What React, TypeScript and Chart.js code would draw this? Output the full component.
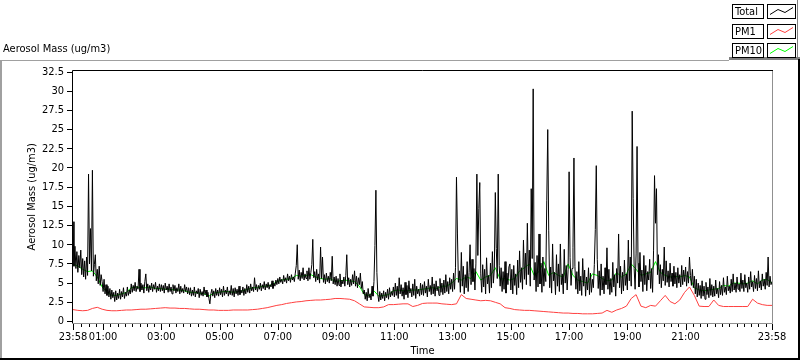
import React, { useEffect, useRef } from "react";
import { Chart, registerables } from "chart.js";

Chart.register(...registerables);

const FONT = "'DejaVu Sans Condensed', 'Liberation Sans', sans-serif";

const chartTitle = "Aerosol Mass (ug/m3)";
const yAxisTitle = "Aerosol Mass (ug/m3)";
const xAxisTitle = "Time";
const seriesNames = ["Total", "PM1", "PM10"];
const seriesColors = ["#000000", "#ff4040", "#00ff00"];

const edgeLabel = "23:58";
const hourLabels = ["01:00", "03:00", "05:00", "07:00", "09:00", "11:00", "13:00", "15:00", "17:00", "19:00", "21:00"];
const spanMinutes = 1440;
const yMin = 0;
const yMax = 32.5;
const yStep = 2.5;

// Total: one value every 2 minutes from 23:58 (30 values per hour row)
const totalStep = 2;
const totalValues = [
  13.0, 7.2, 9.8, 6.9, 9.1, 6.4, 8.6, 7.0, 9.3, 6.1, 8.2, 5.8, 7.9, 5.5, 8.4, 6.0, 19.2, 7.5, 12.1, 6.6, 19.7, 5.9, 7.4, 8.7, 5.3, 6.8, 4.9, 7.2, 4.7, 6.1,
  5.2, 3.9, 5.5, 3.6, 4.8, 3.4, 4.6, 3.2, 4.3, 2.9, 4.1, 3.1, 3.8, 2.6, 4.0, 2.8, 3.7, 3.0, 4.2, 2.9, 3.9, 3.2, 4.4, 3.0, 3.8, 3.3, 4.5, 3.4, 4.1, 3.6,
  4.9, 3.8, 4.7, 4.0, 5.1, 3.9, 4.6, 4.2, 6.8, 3.9, 5.0, 4.1, 4.8, 3.7, 5.2, 6.2, 4.0, 4.9, 3.8, 4.7, 4.1, 5.0, 3.9, 4.8, 4.2, 5.1, 3.8, 4.6, 4.0, 4.9,
  3.9, 4.8, 4.0, 4.7, 3.7, 5.0, 4.1, 4.6, 3.8, 4.9, 3.9, 4.5, 3.6, 4.8, 4.0, 4.7, 3.7, 4.4, 3.9, 4.9, 3.6, 4.6, 3.8, 4.3, 3.7, 4.8, 3.9, 4.5, 3.6, 4.4,
  3.5, 4.4, 3.3, 4.1, 3.4, 4.5, 3.2, 4.0, 3.6, 4.3, 3.1, 4.2, 3.4, 3.9, 3.3, 4.5, 3.5, 4.1, 3.2, 3.8, 3.0, 2.3, 3.6, 4.2, 3.3, 4.0, 3.1, 4.3, 3.4, 4.1,
  3.3, 4.4, 3.5, 4.2, 3.2, 4.6, 3.4, 4.1, 3.6, 4.5, 3.3, 4.0, 3.5, 4.7, 3.4, 4.3, 3.2, 4.4, 3.6, 4.2, 3.4, 4.6, 3.5, 4.1, 3.7, 4.5, 3.4, 4.3, 3.6, 4.8,
  3.8, 4.6, 3.7, 4.9, 4.0, 4.5, 3.9, 5.7, 4.1, 4.8, 3.9, 4.7, 4.2, 5.0, 4.0, 4.8, 4.3, 5.2, 4.1, 4.9, 4.4, 5.1, 4.2, 4.8, 4.5, 5.3, 4.3, 5.0, 4.6, 5.4,
  4.8, 5.6, 4.9, 5.8, 5.1, 5.5, 4.9, 6.0, 5.2, 5.7, 5.0, 6.2, 5.3, 5.9, 5.1, 6.1, 5.4, 5.8, 5.2, 6.3, 7.3, 10.0, 5.5, 6.7, 5.3, 6.4, 5.6, 7.0, 5.4, 6.2,
  5.6, 6.6, 5.3, 7.0, 5.5, 6.4, 7.4, 10.7, 5.7, 6.5, 5.2, 6.8, 5.4, 6.2, 5.0, 9.7, 5.6, 8.4, 5.1, 6.1, 4.9, 6.3, 5.2, 5.9, 5.0, 6.4, 5.3, 8.5, 4.9, 5.8,
  4.8, 5.9, 4.6, 5.6, 4.7, 6.2, 4.5, 5.4, 4.9, 5.8, 4.6, 6.0, 8.7, 4.8, 5.7, 4.5, 5.5, 4.7, 6.1, 4.9, 6.6, 4.6, 5.9, 4.4, 5.7, 4.8, 6.3, 4.3, 5.2, 3.6,
  4.1, 2.9, 3.8, 2.7, 4.3, 3.1, 3.6, 2.8, 4.6, 3.3, 5.2, 9.9, 17.1, 6.4, 3.5, 2.6, 3.9, 2.8, 3.7, 3.0, 4.0, 2.7, 3.8, 3.1, 4.2, 2.9, 4.4, 3.2, 3.9, 3.4,
  4.5, 3.2, 5.0, 3.4, 4.6, 3.0, 5.7, 3.6, 4.8, 3.3, 4.4, 2.9, 5.1, 3.5, 4.7, 3.1, 5.3, 3.7, 4.3, 3.2, 4.9, 3.4, 5.5, 3.0, 4.6, 3.6, 4.2, 3.3, 5.0, 3.5,
  4.8, 3.4, 5.2, 3.7, 4.6, 3.2, 5.5, 3.9, 4.7, 3.5, 5.8, 3.6, 4.9, 3.3, 5.3, 4.0, 4.6, 3.4, 5.6, 3.8, 5.0, 3.5, 5.4, 3.7, 6.1, 3.9, 5.2, 3.6, 5.7, 4.2,
  5.5, 3.9, 6.3, 4.2, 7.0, 18.8, 11.4, 5.1, 6.6, 3.8, 9.0, 4.6, 7.2, 3.6, 6.1, 4.4, 7.8, 3.9, 6.4, 10.0, 4.8, 8.1, 5.2, 6.9, 4.1, 7.5, 19.2, 8.6, 14.7, 18.1,
  6.2, 3.8, 7.4, 4.5, 6.8, 3.6, 8.3, 4.9, 6.0, 3.7, 7.6, 4.4, 9.1, 5.0, 6.9, 16.8, 9.5, 5.6, 19.2, 7.3, 4.6, 7.0, 3.9, 6.5, 4.2, 7.8, 3.7, 6.3, 4.8, 7.1,
  7.5, 4.1, 6.8, 3.6, 7.3, 4.7, 6.2, 3.5, 8.0, 4.4, 9.2, 5.1, 7.0, 4.2, 10.6, 5.5, 8.9, 4.8, 12.8, 6.1, 9.3, 4.6, 17.3, 8.2, 30.3, 5.4, 7.7, 3.9, 8.6, 4.5,
  11.4, 4.9, 7.6, 3.8, 8.4, 4.6, 6.9, 5.2, 15.8, 25.0, 11.9, 4.4, 7.1, 3.7, 10.1, 5.3, 6.4, 3.5, 8.7, 4.6, 7.5, 3.9, 10.1, 4.8, 6.2, 3.6, 9.4, 5.0, 7.3, 4.1,
  6.8, 19.5, 8.3, 4.7, 6.9, 9.6, 21.3, 7.2, 4.2, 6.5, 3.6, 7.8, 4.0, 5.9, 3.4, 8.2, 4.6, 6.7, 3.3, 5.8, 4.1, 7.0, 3.5, 6.3, 3.8, 5.5, 4.4, 7.4, 12.0, 20.3,
  8.1, 4.3, 6.6, 3.4, 7.5, 4.1, 5.9, 3.6, 7.0, 4.8, 9.6, 4.2, 6.8, 3.5, 5.6, 3.8, 7.7, 4.5, 6.1, 3.3, 6.9, 5.0, 11.4, 4.4, 7.2, 3.6, 6.4, 4.0, 8.0, 4.7,
  6.2, 4.1, 10.6, 5.3, 8.4, 4.6, 27.4, 16.0, 6.9, 4.2, 8.8, 22.8, 7.6, 4.5, 9.0, 5.2, 6.7, 3.9, 8.6, 4.8, 7.3, 4.0, 6.5, 5.4, 8.1, 4.3, 6.9, 3.8, 9.2, 19.0,
  12.8, 17.3, 6.1, 8.7, 4.9, 7.4, 4.4, 6.8, 5.3, 9.7, 4.7, 7.9, 5.1, 6.6, 4.5, 7.6, 5.2, 6.3, 4.6, 7.2, 4.9, 6.4, 4.4, 7.0, 5.0, 6.1, 4.5, 7.3, 4.8, 6.7,
  5.2, 7.1, 4.6, 6.5, 5.0, 8.4, 6.0, 4.7, 6.8, 4.4, 5.9, 3.6, 5.5, 3.2, 5.0, 3.4, 4.7, 3.0, 5.3, 3.3, 4.6, 2.9, 5.1, 3.5, 4.5, 3.1, 5.6, 3.4, 4.8, 3.2,
  4.6, 3.3, 5.4, 3.6, 4.3, 3.1, 5.2, 3.5, 4.7, 3.4, 5.7, 3.8, 4.5, 3.5, 5.9, 4.0, 4.6, 3.7, 5.5, 3.9, 6.2, 4.1, 5.0, 3.8, 5.8, 4.2, 4.9, 3.9, 6.3, 4.3,
  5.4, 3.9, 6.1, 4.4, 5.0, 3.8, 5.8, 4.2, 6.5, 4.5, 5.2, 3.9, 6.0, 4.3, 5.6, 4.0, 6.6, 4.4, 5.3, 4.1, 6.2, 4.6, 5.5, 4.2, 6.4, 4.7, 8.4, 4.5, 5.9, 4.8,
  5.2,
];

// PM1 and PM10: one value every 10 minutes from 23:58 (6 values per hour row)
const pmStep = 10;
const pm1Values = [
  1.55, 1.45, 1.4, 1.45, 1.7, 1.85,
  1.6, 1.45, 1.4, 1.4, 1.45, 1.5,
  1.5, 1.55, 1.6, 1.6, 1.65, 1.7,
  1.75, 1.8, 1.75, 1.75, 1.7, 1.7,
  1.65, 1.6, 1.6, 1.55, 1.5, 1.5,
  1.45, 1.45, 1.45, 1.5, 1.5, 1.5,
  1.5, 1.55, 1.6, 1.7, 1.8, 1.95,
  2.1, 2.2, 2.35, 2.45, 2.55, 2.6,
  2.7, 2.75, 2.8, 2.8, 2.85, 2.9,
  3.0, 3.0, 2.95, 2.9, 2.7, 2.3,
  1.9, 1.85, 1.8, 1.8, 1.9, 2.2,
  2.2, 2.25, 2.3, 2.3, 1.95, 2.1,
  2.35, 2.4, 2.4, 2.4, 2.3, 2.25,
  2.2, 2.3, 3.5, 3.0, 2.9, 2.8,
  2.7, 2.75, 2.7, 2.5, 2.3, 1.8,
  1.7, 1.55, 1.5, 1.45, 1.45, 1.4,
  1.35, 1.3, 1.25, 1.2, 1.15, 1.1,
  1.1, 1.05, 1.05, 1.0, 1.0, 1.0,
  1.05, 1.1, 1.45, 1.2, 1.5, 1.7,
  2.0, 3.0, 3.5, 2.0, 1.8, 2.1,
  2.0, 2.7, 3.4, 2.6, 2.3, 2.8,
  3.8, 4.5, 3.4, 2.0, 1.95, 1.95,
  2.8, 2.1, 1.95, 1.95, 1.95, 1.95,
  1.95, 1.95, 2.9, 2.4, 2.2, 2.1,
  2.1,
];

const pm10Values = [
  7.5, 7.2, 6.8, 6.5, 6.6, 5.8,
  4.5, 3.8, 3.4, 3.4, 3.6, 3.8,
  4.4, 4.5, 4.4, 4.4, 4.5, 4.3,
  4.3, 4.2, 4.2, 4.1, 4.1, 4.0,
  3.8, 3.8, 3.7, 3.6, 3.3, 3.7,
  3.8, 3.9, 3.9, 3.8, 3.9, 4.0,
  4.2, 4.4, 4.4, 4.6, 4.6, 4.8,
  5.2, 5.4, 5.5, 5.6, 6.0, 5.9,
  6.0, 6.1, 5.8, 5.6, 5.5, 5.6,
  5.2, 5.3, 5.4, 5.3, 5.2, 4.6,
  3.5, 3.4, 4.0, 3.3, 3.4, 3.5,
  4.0, 4.1, 4.0, 4.0, 4.1, 4.1,
  4.2, 4.3, 4.4, 4.3, 4.6, 4.6,
  5.0, 5.6, 5.4, 5.8, 5.6, 6.5,
  5.4, 5.8, 6.0, 7.0, 5.5, 5.6,
  5.4, 5.6, 6.6, 7.0, 7.5, 6.0,
  6.5, 7.8, 6.0, 6.4, 6.0, 5.8,
  7.5, 6.0, 5.4, 5.2, 5.0, 6.2,
  6.0, 5.6, 5.3, 5.4, 6.4, 5.8,
  6.2, 7.5, 6.8, 6.0, 6.2, 6.4,
  7.8, 6.4, 6.0, 5.8, 5.9, 5.8,
  6.0, 5.8, 4.4, 4.1, 4.0, 4.1,
  4.2, 4.3, 4.7, 4.6, 5.0, 5.0,
  4.9, 5.0, 5.3, 4.9, 5.4, 5.5,
  5.0,
];

// minute offset of a clock label, counted from the 23:58 start
const minuteOfLabel = (label: string) => {
  const [h, m] = label.split(":").map(Number);
  return ((h * 60 + m) - (23 * 60 + 58) + 1440) % 1440;
};

const majorMinutes = hourLabels.map(minuteOfLabel);
const quarterStart = minuteOfLabel("00:15");
const xTickValues: number[] = [0];
for (let m = quarterStart; m < spanMinutes; m += 15) xTickValues.push(m);
xTickValues.push(spanMinutes);

const labelFor = (v: number) => {
  if (v === 0 || v === spanMinutes) return edgeLabel;
  const idx = majorMinutes.indexOf(v);
  return idx >= 0 ? hourLabels[idx] : "";
};

const toPoints = (vals: number[], step: number) => vals.map((v, i) => ({ x: i * step, y: v }));

const decorPlugin = {
  id: "decor",
  afterDraw(chart: any) {
    const ctx = chart.ctx as CanvasRenderingContext2D;
    const { left, right, top, bottom } = chart.chartArea;
    const xs = chart.scales.x;
    ctx.save();

    // outer panel
    ctx.fillStyle = "#a0a0a0";
    ctx.fillRect(0, 60, 729, 1);
    ctx.fillRect(0, 60, 2, 300);
    ctx.fillStyle = "#808080";
    ctx.fillRect(729, 57, 71, 3);
    ctx.fillRect(797, 0, 1, 58);
    ctx.fillStyle = "#000";
    ctx.fillRect(0, 358, 800, 2);
    ctx.fillRect(798, 59, 2, 301);

    // plot frame
    ctx.lineWidth = 1;
    ctx.strokeStyle = "#000";
    ctx.beginPath();
    ctx.moveTo(Math.round(left) - 0.5, Math.round(bottom) + 1);
    ctx.lineTo(Math.round(left) - 0.5, Math.round(top) - 1.5);
    ctx.lineTo(Math.round(right) + 1, Math.round(top) - 1.5);
    ctx.stroke();
    ctx.strokeStyle = "#909090";
    ctx.beginPath();
    ctx.moveTo(Math.round(right) + 0.5, Math.round(top) - 1);
    ctx.lineTo(Math.round(right) + 0.5, Math.round(bottom) + 1.5);
    ctx.lineTo(Math.round(left) - 1, Math.round(bottom) + 1.5);
    ctx.stroke();

    // x tick marks
    ctx.strokeStyle = "#000";
    for (const t of xs.ticks) {
      const px = Math.round(xs.getPixelForValue(t.value)) + 0.5;
      const major = labelFor(t.value) !== "";
      ctx.beginPath();
      ctx.moveTo(px, Math.round(bottom) + 2);
      ctx.lineTo(px, Math.round(bottom) + (major ? 8 : 5));
      ctx.stroke();
    }

    // titles
    ctx.fillStyle = "#000";
    ctx.font = `11px ${FONT}`;
    ctx.textBaseline = "middle";
    ctx.textAlign = "left";
    ctx.fillText(chartTitle, 3, 49);
    ctx.textAlign = "center";
    ctx.fillText(xAxisTitle, (left + right) / 2, 351);
    ctx.save();
    ctx.translate(32, (top + bottom) / 2);
    ctx.rotate(-Math.PI / 2);
    ctx.fillText(yAxisTitle, 0, 0);
    ctx.restore();

    // legend
    const shape = [[3, 10], [11, 5], [18, 8], [26, 3]];
    seriesNames.forEach((name, k) => {
      const y0 = 4 + Math.round(k * 19.5);
      ctx.strokeStyle = "#000";
      ctx.fillStyle = "#fff";
      ctx.fillRect(732, y0, 32, 14);
      ctx.strokeRect(732.5, y0 + 0.5, 31, 14);
      ctx.fillRect(767, y0, 29, 14);
      ctx.strokeRect(767.5, y0 + 0.5, 28, 14);
      ctx.fillStyle = "#000";
      ctx.textAlign = "left";
      ctx.fillText(name, 735, y0 + 8);
      ctx.strokeStyle = seriesColors[k];
      ctx.beginPath();
      shape.forEach(([dx, dy], j) => {
        if (j === 0) ctx.moveTo(767 + dx, y0 + dy + 0.5);
        else ctx.lineTo(767 + dx, y0 + dy + 0.5);
      });
      ctx.stroke();
    });

    ctx.restore();
  },
};

export default function App() {
  const canvasRef = useRef<HTMLCanvasElement | null>(null);

  useEffect(() => {
    document.body.style.margin = "0";
    const canvas = canvasRef.current;
    if (!canvas) return;
    const chart = new Chart(canvas, {
      type: "line",
      data: {
        datasets: [
          { label: seriesNames[0], data: toPoints(totalValues, totalStep), borderColor: seriesColors[0] },
          { label: seriesNames[1], data: toPoints(pm1Values, pmStep), borderColor: seriesColors[1] },
          { label: seriesNames[2], data: toPoints(pm10Values, pmStep), borderColor: seriesColors[2] },
        ].map((d) => ({ ...d, borderWidth: 1, pointRadius: 0, tension: 0, fill: false })),
      },
      options: {
        animation: false,
        responsive: false,
        devicePixelRatio: 1,
        events: [],
        layout: { padding: { top: 72, right: 28, left: 0, bottom: 0 } },
        plugins: {
          legend: { display: false },
          tooltip: { enabled: false },
          title: { display: false },
        },
        scales: {
          x: {
            type: "linear",
            min: 0,
            max: spanMinutes,
            afterBuildTicks: (s: any) => {
              s.ticks = xTickValues.map((v) => ({ value: v }));
            },
            afterFit: (s: any) => {
              s.height = 39.5;
            },
            grid: { display: false, drawOnChartArea: false, drawTicks: false },
            border: { display: false },
            ticks: {
              autoSkip: false,
              maxRotation: 0,
              minRotation: 0,
              padding: 9,
              color: "#000",
              font: { family: FONT, size: 11 },
              callback: (v: any) => labelFor(Number(v)),
            },
          },
          y: {
            min: yMin,
            max: yMax,
            afterFit: (s: any) => {
              s.width = 73;
            },
            grid: { drawOnChartArea: false, drawTicks: true, tickLength: 6, tickColor: "#000", color: "#000" },
            border: { display: false },
            ticks: {
              stepSize: yStep,
              padding: 3,
              color: "#000",
              font: { family: FONT, size: 11 },
              callback: (v: any) => String(v),
            },
          },
        },
      },
      plugins: [decorPlugin],
    } as any);
    return () => chart.destroy();
  }, []);

  return (
    <div style={{ position: "absolute", left: 0, top: 0, width: 800, height: 361, background: "#fff" }}>
      <canvas ref={canvasRef} width={800} height={361} style={{ display: "block" }} />
    </div>
  );
}
